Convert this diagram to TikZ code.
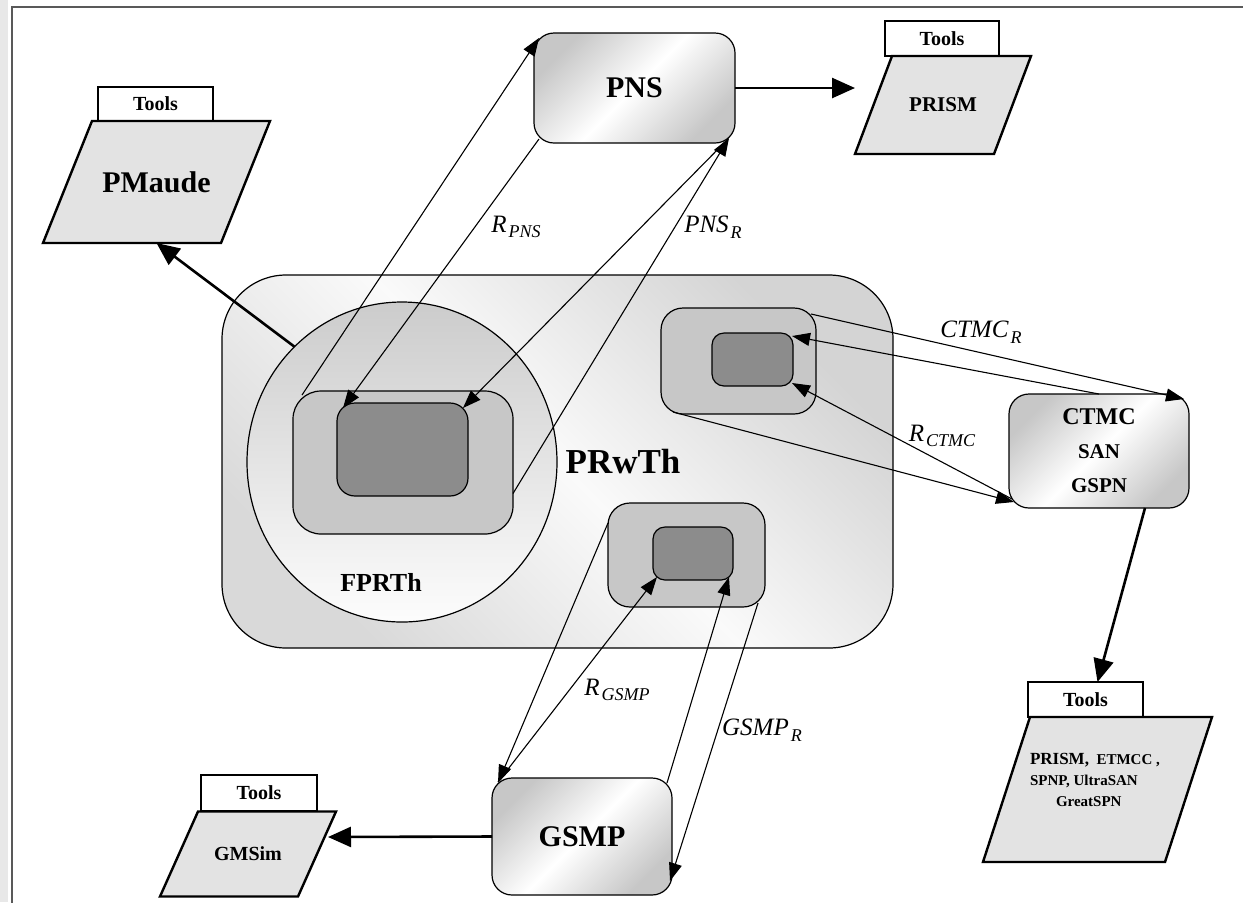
\documentclass[tikz,border=0pt]{standalone}
\usepackage{fontspec}
\setmainfont{Liberation Serif}
\usetikzlibrary{arrows.meta,calc,shapes.geometric}
\pgfdeclarelayer{back}
\pgfsetlayers{back,main}

% italic label with a lowered index
\newcommand{\lbl}[2]{\textit{#1}\kern1pt\raisebox{-0.5ex}{\fontsize{9}{9}\selectfont\textit{#2}}}
% slanted tool sheet behind a named node
\newcommand{\sheet}[2]{%
  \draw[sheetline] ($(#1.north west)+(#2,0)$) -- (#1.north east)
    -- ($(#1.south east)+(-#2,0)$) -- (#1.south west) -- cycle;}

\begin{document}
\begin{tikzpicture}[x=0.5pt,y=-0.5pt,
  every node/.style={inner sep=0pt, outer sep=0pt},
  frame/.style={draw=black!65, line width=0.8pt},
  link/.style={line width=0.55pt, -{Triangle[length=9pt,width=6.5pt]}},
  bold link/.style={line width=1.3pt, -{Triangle[length=11.5pt,width=10pt]}},
  model/.style={draw, line width=0.6pt, rounded corners=10pt,
    top color=black!22, bottom color=black!22, middle color=white, shading angle=45,
    font=\bfseries\fontsize{15}{18}\selectfont},
  theory/.style={draw, line width=0.6pt, rounded corners=32pt,
    top color=black!17, bottom color=black!15, middle color=black!2, shading angle=-45},
  fuzzy/.style={draw, line width=0.6pt, ellipse,
    top color=black!20, bottom color=black!1},
  midbox/.style={draw, line width=0.6pt, fill=black!22},
  corebox/.style={draw, line width=0.6pt, fill=black!45},
  tab/.style={draw, line width=0.7pt, fill=white, font=\bfseries\fontsize{10}{12}\selectfont},
  sheetline/.style={draw, line width=1.2pt, fill=black!11, line join=miter},
  sheet/.style={font=\bfseries},
  tag/.style={font=\fontsize{12.5}{14}\selectfont},
]
\useasboundingbox (0,0) rectangle (1243,902);
\fill[black!9] (0,0) rectangle (8,902);
\draw[frame] (12,7) rectangle (1270,930);

% ---- rewriting theory and its sub-theories ----
\node[theory, minimum width=335.5pt, minimum height=186.5pt] (prw) at (557.5,461.5) {};
\node[fuzzy, minimum width=155pt, minimum height=160pt] (fc) at (402,462) {};
\node[midbox, rounded corners=14pt, minimum width=110pt, minimum height=71.5pt] (fm) at (403,462.5) {};
\node[corebox, rounded corners=9pt, minimum width=65.5pt, minimum height=46.5pt] (fi) at (402.5,449.5) {};
\node[font=\bfseries\fontsize{13}{15}\selectfont] (fcl) at (381,582) {FPRTh};
\node[font=\bfseries\fontsize{17.5}{20}\selectfont] (prwl) at (623,462) {PRwTh};

\node[midbox, rounded corners=11pt, minimum width=77.5pt, minimum height=53pt] (co) at (738.5,361) {};
\node[corebox, rounded corners=6pt, minimum width=40.5pt, minimum height=26.5pt] (ci) at (752.5,359.5) {};
\node[midbox, rounded corners=11pt, minimum width=78.5pt, minimum height=52pt] (go) at (686.5,555) {};
\node[corebox, rounded corners=6pt, minimum width=40pt, minimum height=26.5pt] (gi) at (693,553.5) {};

% ---- target models ----
\node[model, minimum width=100.5pt, minimum height=55pt] (pns) at (634.5,88) {PNS};
\node[model, minimum width=90pt, minimum height=57pt, align=center] (ct) at (1099,451)
  {{\fontsize{12}{14}\selectfont CTMC}\\[-1pt]{\fontsize{10.5}{13.5}\selectfont SAN}\\[-1pt]{\fontsize{10.5}{13.5}\selectfont GSPN}};
\node[model, minimum width=90pt, minimum height=58.5pt] (gs) at (582,836.5) {GSMP};

% ---- tool sheets ----
\node[sheet, minimum width=113.5pt, minimum height=61pt, font=\bfseries\fontsize{15}{18}\selectfont] (pm) at (156.5,182) {PMaude};
\node[sheet, minimum width=88pt, minimum height=49pt, font=\bfseries\fontsize{10.5}{12}\selectfont] (pr) at (943,105) {PRISM};
\node[sheet, minimum width=114.5pt, minimum height=72.5pt] (tl) at (1097.5,789.5) {};
\node[sheet, minimum width=88pt, minimum height=42.5pt, font=\bfseries\fontsize{10}{12}\selectfont] (gm) at (248,854) {GMSim};
\node[anchor=north west, align=left, font=\bfseries\fontsize{7.5}{10.5}\selectfont] (tltext) at (1030,753)
  {{\fontsize{8.5}{10.5}\selectfont PRISM,}\ \ ETMCC ,\\SPNP, UltraSAN\\\hspace{13pt}GreatSPN};

\begin{pgfonlayer}{back}
  \node[tab, minimum width=57.5pt, minimum height=17pt] (pmtab) at (155.5,104) {Tools};
  \node[tab, minimum width=57pt, minimum height=17.5pt] (prtab) at (942,38.5) {Tools};
  \node[tab, minimum width=57.5pt, minimum height=17.5pt] (tltab) at (1085.5,699.5) {Tools};
  \node[tab, minimum width=58pt, minimum height=18pt] (gmtab) at (259,793) {Tools};
  \sheet{pm}{49}
  \sheet{pr}{37}
  \sheet{tl}{47}
  \sheet{gm}{38}
\end{pgfonlayer}

% ---- translation labels ----
\node[tag] (rpns) at (516,227) {\lbl{R}{PNS}};
\node[tag] (pnsr) at (713,227) {\lbl{PNS}{R}};
\node[tag] (ctmcr) at (981,332) {\lbl{CTMC}{R}};
\node[tag] (rctmc) at (942,436) {\lbl{R}{CTMC}};
\node[tag] (rgsmp) at (617,690) {\lbl{R}{GSMP}};
\node[tag] (gsmpr) at (762,730) {\lbl{GSMP}{R}};

% ---- PNS translations ----
\draw[link] ($(fm.north west)+(9,4)$) -- ($(pns.north west)+(5,5)$);
\draw[link] ($(pns.south west)+(5,-4)$) -- ($(fi.north west)+(6,5)$);
\draw[link] ($(fm.east)+(0,31)$) -- ($(pns.south east)+(-6,-5)$);
\draw[link] ($(pns.south east)+(-7,-4)$) -- ($(fi.north east)+(-5,5)$);

% ---- CTMC translations ----
\draw[link] ($(co.north east)+(-5,6)$) -- ($(ct.north east)+(-5,5)$);
\draw[link] (ct.north) -- ($(ci.north east)+(-1,3)$);
\draw[link] ($(co.south west)+(12,-2)$) -- ($(ct.south west)+(5,-6)$);
\draw[link] ($(ct.south west)+(3,-9)$) -- ($(ci.south east)+(-1,-3)$);

% ---- GSMP translations ----
\draw[link] ($(go.north west)+(0,20)$) -- ($(gs.north west)+(6,5)$);
\draw[link] ($(gs.north west)+(6,4)$) -- ($(gi.south west)+(4,-3)$);
\draw[link] ($(gs.north east)+(-5,5)$) -- ($(gi.south east)+(-4,-3)$);
\draw[link] ($(go.south east)+(-7,-4)$) -- ($(gs.south east)+(-2,-14)$);

% ---- tool support ----
\draw[bold link] (pns.east) -- ($(pr.west)+(0,-17)$);
\draw[bold link] (fc.133) -- (pm.south);
\draw[bold link] ($(ct.south east)+(-44,0)$) -- ($(tltab.north)+(12,0)$);
\draw[bold link] (gs.west) -- ($(gm.east)+(-8,-17)$);
\end{tikzpicture}
\end{document}
